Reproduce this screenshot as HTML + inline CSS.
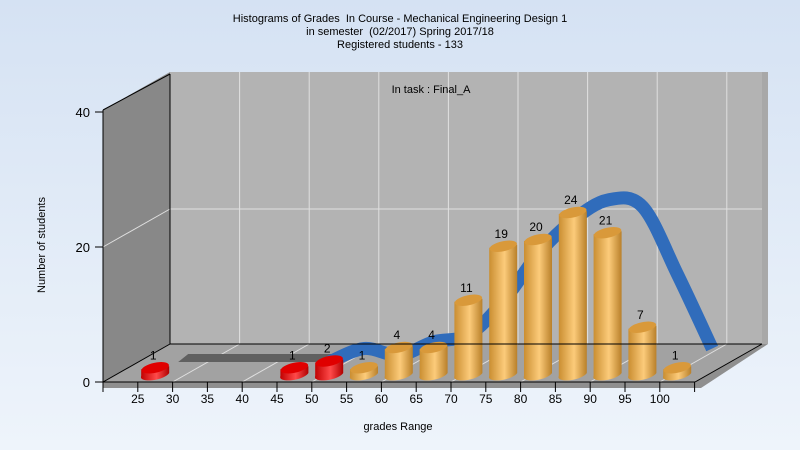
<!DOCTYPE html>
<html><head><meta charset="utf-8"><style>
body{margin:0;width:800px;height:450px;overflow:hidden;font-family:"Liberation Sans",sans-serif}
svg text{font-family:"Liberation Sans",sans-serif;white-space:pre}
</style></head><body>
<svg id="c" width="800" height="450">
<defs>
<linearGradient id="bg" x1="0" y1="0" x2="0" y2="1"><stop offset="0" stop-color="#d5e2f3"/><stop offset="1" stop-color="#eef4fb"/></linearGradient>
<linearGradient id="gold" x1="0" y1="0" x2="1" y2="0"><stop offset="0" stop-color="#c98d30"/><stop offset="0.55" stop-color="#fccb7a"/><stop offset="1" stop-color="#b9802a"/></linearGradient>
<linearGradient id="red" x1="0" y1="0" x2="1" y2="0"><stop offset="0" stop-color="#c00000"/><stop offset="0.55" stop-color="#ff4a4a"/><stop offset="1" stop-color="#b00000"/></linearGradient>
</defs>
<rect width="800" height="450" fill="url(#bg)"/>
<g font-size="11" text-anchor="middle" fill="#000">
<text x="400" y="22">Histograms of Grades  In Course - Mechanical Engineering Design 1</text>
<text x="400" y="35">in semester  (02/2017) Spring 2017/18</text>
<text x="400" y="48">Registered students - 133</text>
</g>
<polygon points="103,110 170,72 170,344 103,382" fill="#888"/>
<polygon points="170,72 768,72 768,344 170,344" fill="#a8a8a8"/>
<polygon points="170,72 762,72 762,344 170,344" fill="#b3b3b3"/>
<polygon points="103,382 170,344 768,344 701,388 103,388" fill="#8f8f8f"/>
<polygon points="103,382 170,344 762,344 695,382" fill="#a2a2a2"/>
<g id="grid" stroke="#e0e0e0" stroke-width="1" fill="none"></g>
<g id="ribbon"></g>
<g id="bars"></g>
<g id="axes" stroke="#000" fill="none"></g>
<g id="labels" font-size="12" fill="#000"></g>
<text x="431" y="93" font-size="11" text-anchor="middle">In task : Final_A</text>
<text x="398" y="430" font-size="11" text-anchor="middle">grades Range</text>
<text transform="translate(45,245) rotate(-90)" font-size="11" text-anchor="middle">Number of students</text>
</svg>
<script>
const categories=["25","30","35","40","45","50","55","60","65","70","75","80","85","90","95","100"];
const counts=[1,0,0,0,1,2,1,4,4,11,19,20,24,21,7,1];
const curveValues=[0,0,0,0,0,2,1,3,4,9,16,21,24,23,13,2];
const yTicks=[0,20,40];
const passMark=55;
const NS="http://www.w3.org/2000/svg";
const X0=103,STEP=34.8,Y0=382,DX=67,DY=-38,YS=6.75;
const tickX=k=>X0+k*STEP;
const catX=i=>X0+(i+1.5)*STEP;
const yv=v=>Y0-v*YS;
function mk(tag,attrs,parent){const e=document.createElementNS(NS,tag);for(const k in attrs)e.setAttribute(k,attrs[k]);parent.appendChild(e);return e;}
const grid=document.getElementById('grid'),axes=document.getElementById('axes'),labels=document.getElementById('labels'),bars=document.getElementById('bars'),rib=document.getElementById('ribbon');
for(let k=2;k<=16;k+=2){
 const g1=mk('line',{x1:tickX(k)+DX,y1:Y0+DY-272,x2:tickX(k)+DX,y2:Y0+DY},grid);
 
 
 const g2=mk('line',{x1:tickX(k)+DX,y1:Y0+DY,x2:tickX(k),y2:Y0},grid);
 
 
}
yTicks.forEach(t=>{
 if(t===0||t===40)return;
 const a=mk('line',{x1:X0,y1:yv(t),x2:X0+DX,y2:yv(t)+DY},grid);
 
 
 const b=mk('line',{x1:X0+DX,y1:yv(t)+DY,x2:762,y2:yv(t)+DY},grid);
 
 
});
const RDX=35,RDY=-20,TH=13;
const pts=curveValues.map((v,i)=>[catX(i)+RDX,yv(v)+RDY]);
let firstNZ=curveValues.findIndex(v=>v>0);
const startI=Math.max(0,firstNZ-1);
const zp=[[pts[0][0]-12,pts[0][1]],[pts[startI][0],pts[startI][1]]];
const gz=mk('polygon',{points:`${zp[0][0]},${zp[0][1]} ${zp[1][0]},${zp[1][1]} ${zp[1][0]+10},${zp[1][1]-8} ${zp[0][0]+10},${zp[0][1]-8}`,fill:'#606060'},rib);


function spline(p){let d=`M${p[0][0]},${p[0][1]}`;for(let i=0;i<p.length-1;i++){const p0=p[Math.max(0,i-1)],p1=p[i],p2=p[i+1],p3=p[Math.min(p.length-1,i+2)];d+=` C${p1[0]+(p2[0]-p0[0])/6},${p1[1]+(p2[1]-p0[1])/6} ${p2[0]-(p3[0]-p1[0])/6},${p2[1]-(p3[1]-p1[1])/6} ${p2[0]},${p2[1]}`;}return d;}
const sub=pts.slice(startI);
const rp=mk('path',{d:spline(sub),fill:'none',stroke:'#306cbb','stroke-width':TH,'stroke-linejoin':'round'},rib);


const BW=28,EH=5;
counts.forEach((v,i)=>{
 if(v<=0)return;
 const cx=catX(i),base=376,top=base-v*YS;
 const fail=parseInt(categories[i])<passMark;
 const g=mk('g',{},bars);
 
 
 mk('path',{d:`M${cx-BW/2},${top} L${cx-BW/2},${base} A${BW/2},${EH} -12 0 0 ${cx+BW/2},${base-3} L${cx+BW/2},${top-3} Z`,fill:fail?'url(#red)':'url(#gold)'},g);
 mk('ellipse',{cx:cx,cy:top-1.5,rx:BW/2,ry:EH,transform:`rotate(-12 ${cx} ${top-1.5})`,fill:fail?'#e00000':'#d9993a'},g);
 const t=mk('text',{x:cx-2,y:top-10,'font-size':12,'text-anchor':'middle',fill:'#000'},labels);
 t.textContent=v;
 
 
});
mk('line',{x1:X0,y1:Y0,x2:695,y2:Y0},axes);
mk('line',{x1:X0,y1:yv(40)-2,x2:X0,y2:Y0},axes);
mk('line',{x1:X0,y1:Y0,x2:X0+DX,y2:Y0+DY},axes);
mk('line',{x1:X0,y1:yv(40)-2,x2:X0+DX,y2:yv(40)+DY},axes);
mk('line',{x1:X0+DX,y1:Y0+DY,x2:762,y2:Y0+DY},axes);
mk('line',{x1:X0+DX,y1:yv(40)+DY,x2:X0+DX,y2:Y0+DY},axes);
mk('line',{x1:695,y1:Y0,x2:762,y2:Y0+DY},axes);
for(let k=0;k<=17;k++){mk('line',{x1:tickX(k),y1:Y0,x2:tickX(k),y2:Y0+10},axes);}
categories.forEach((c,i)=>{
 const t=mk('text',{x:tickX(i+1),y:403,'text-anchor':'middle'},labels);
 t.textContent=c;
 
 
});
yTicks.forEach(v=>{
 mk('line',{x1:X0-8,y1:yv(v),x2:X0,y2:yv(v)},axes);
 const t=mk('text',{x:X0-13,y:yv(v)+5,'text-anchor':'end','font-size':13},labels);
 t.textContent=v;
 
 
});
</script>
</body></html>
